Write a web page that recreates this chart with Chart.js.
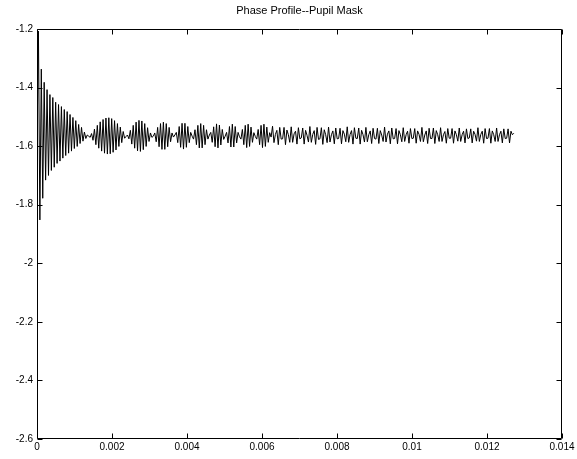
<!DOCTYPE html>
<html>
<head>
<meta charset="utf-8">
<title>Phase Profile--Pupil Mask</title>
<script src="https://cdn.jsdelivr.net/npm/chart.js@4/dist/chart.umd.min.js"></script>
<style>
    html, body { margin: 0; padding: 0; background: #fff; }
    #wrap { width: 577px; height: 459px; }
</style>
</head>
<body>
<div id="wrap"><canvas id="phaseChart" width="577" height="459"></canvas></div>
<script>
// samples are evenly spaced along x
const sampleStep = 3.83e-5;

// first decaying burst
const phaseDecay = [
    -1.600, -1.207, -1.852, -1.337, -1.778, -1.382, -1.716, -1.407, -1.700, -1.424,
    -1.683, -1.434, -1.672, -1.450, -1.659, -1.458, -1.651, -1.465, -1.641, -1.475,
    -1.632, -1.482, -1.624, -1.492, -1.617, -1.502, -1.608, -1.513, -1.601, -1.526,
    -1.591, -1.536, -1.583, -1.552, -1.574
];

// beat groups after the first burst
const phaseBeats = [
    -1.562, -1.566, -1.570,
    -1.557, -1.580, -1.542, -1.595, -1.529, -1.607, -1.517, -1.617, -1.509, -1.624, -1.504, -1.627,
    -1.503, -1.626, -1.506, -1.621, -1.513, -1.613, -1.523, -1.601, -1.535, -1.588, -1.550, -1.573,
    -1.567, -1.562,
    -1.575, -1.546, -1.593, -1.529, -1.607, -1.518, -1.616, -1.512, -1.618, -1.514, -1.612, -1.523,
    -1.601, -1.537, -1.584, -1.555,
    -1.570, -1.566,
    -1.555, -1.585, -1.536, -1.602, -1.523, -1.611, -1.518, -1.611, -1.523, -1.602, -1.536, -1.585, -1.555,
    -1.569, -1.562,
    -1.553, -1.588, -1.533, -1.604, -1.522, -1.610, -1.522, -1.604, -1.533, -1.588, -1.553,
    -1.566,
    -1.576, -1.544, -1.595, -1.529, -1.606, -1.523, -1.606, -1.529, -1.595, -1.544, -1.576,
    -1.562,
    -1.553, -1.587, -1.534, -1.602, -1.524, -1.606, -1.528, -1.596, -1.543, -1.577,
    -1.566,
    -1.553, -1.589, -1.533, -1.603, -1.525, -1.603, -1.533, -1.589, -1.553,
    -1.568,
    -1.576, -1.543, -1.595, -1.529, -1.605, -1.525, -1.601, -1.535, -1.587, -1.554,
    -1.567,
    -1.576, -1.543, -1.595, -1.529, -1.605, -1.525, -1.601, -1.535, -1.587, -1.554,
    -1.569
];

// long ripple tail
const phaseTail = [
    -1.532, -1.588, -1.560, -1.546, -1.595, -1.536, -1.576, -1.575, -1.536, -1.595, -1.545, -1.561, -1.587,
    -1.534, -1.587, -1.558, -1.549, -1.593, -1.537, -1.575, -1.572, -1.538, -1.593, -1.546, -1.563, -1.586,
    -1.533, -1.587, -1.560, -1.547, -1.594, -1.536, -1.577, -1.575, -1.537, -1.594, -1.544, -1.561, -1.588,
    -1.535, -1.586, -1.561, -1.548, -1.592, -1.538, -1.575, -1.574, -1.539, -1.592, -1.547, -1.559, -1.585,
    -1.534, -1.587, -1.560, -1.547, -1.593, -1.537, -1.573, -1.574, -1.538, -1.593, -1.546, -1.561, -1.586,
    -1.536, -1.585, -1.561, -1.548, -1.591, -1.539, -1.574, -1.576, -1.539, -1.591, -1.547, -1.562, -1.584,
    -1.535, -1.586, -1.559, -1.548, -1.592, -1.538, -1.575, -1.574, -1.540, -1.592, -1.547, -1.561, -1.585,
    -1.537, -1.584, -1.561, -1.549, -1.590, -1.540, -1.574, -1.573, -1.540, -1.590, -1.548, -1.560, -1.584,
    -1.536, -1.585, -1.562, -1.548, -1.591, -1.539, -1.574, -1.574, -1.538, -1.591, -1.547, -1.561, -1.584,
    -1.537, -1.584, -1.561, -1.550, -1.590, -1.540, -1.573, -1.573, -1.540, -1.590, -1.548, -1.561, -1.583,
    -1.538, -1.584, -1.561, -1.549, -1.589, -1.541, -1.574, -1.572, -1.541, -1.589, -1.549, -1.560, -1.583,
    -1.537, -1.584, -1.560, -1.549, -1.590, -1.540, -1.574, -1.573, -1.540, -1.590, -1.548, -1.561, -1.584,
    -1.538, -1.584, -1.561, -1.549, -1.589, -1.541, -1.574, -1.573, -1.541, -1.589, -1.549, -1.561, -1.556
];

const xTicks = [0, 0.002, 0.004, 0.006, 0.008, 0.01, 0.012, 0.014];
const yTicks = [-2.6, -2.4, -2.2, -2, -1.8, -1.6, -1.4, -1.2];
const chartTitle = 'Phase Profile--Pupil Mask';

const phase = phaseDecay.concat(phaseBeats, phaseTail);
const points = phase.map((v, i) => ({ x: i * sampleStep, y: v }));

const fontFamily = '"Liberation Sans", Arial, Helvetica, sans-serif';
const fmt = v => String(+v.toFixed(4));

// matlab style box, inward ticks and title
const boxPlugin = {
    id: 'boxPlugin',
    afterDraw(chart) {
        const { ctx, chartArea: a, scales } = chart;
        const L = Math.round(a.left) + 0.5, R = Math.round(a.right) - 0.5;
        const T = Math.round(a.top) + 0.5, B = Math.round(a.bottom) - 0.5;
        const tl = 5;
        ctx.save();
        ctx.strokeStyle = '#000';
        ctx.lineWidth = 1;
        ctx.beginPath();
        ctx.rect(L, T, R - L, B - T);
        xTicks.forEach(v => {
            const px = Math.round(scales.x.getPixelForValue(v)) + 0.5;
            ctx.moveTo(px, B); ctx.lineTo(px, B - tl);
            ctx.moveTo(px, T); ctx.lineTo(px, T + tl);
        });
        yTicks.forEach(v => {
            const py = Math.round(scales.y.getPixelForValue(v)) + 0.5;
            ctx.moveTo(L, py); ctx.lineTo(L + tl, py);
            ctx.moveTo(R, py); ctx.lineTo(R - tl, py);
        });
        ctx.stroke();

        ctx.fillStyle = '#000';
        ctx.font = '11px ' + fontFamily;
        ctx.textAlign = 'center';
        ctx.textBaseline = 'middle';
        ctx.fillText(chartTitle, (a.left + a.right) / 2, 11);
        ctx.restore();
    }
};

new Chart(document.getElementById('phaseChart'), {
    type: 'line',
    data: {
        datasets: [{
            data: points,
            borderColor: '#000',
            borderWidth: 1,
            pointRadius: 0,
            tension: 0,
            fill: false
        }]
    },
    options: {
        responsive: false,
        animation: false,
        layout: { padding: { top: 29, right: 15, left: 1, bottom: 0 } },
        plugins: {
            legend: { display: false },
            title: { display: false },
            tooltip: { enabled: false }
        },
        scales: {
            x: {
                type: 'linear',
                min: 0,
                max: 0.014,
                afterBuildTicks: s => { s.ticks = xTicks.map(v => ({ value: v })); },
                afterFit: s => { s.height = 20; },
                grid: { display: false, drawTicks: false },
                border: { display: false },
                ticks: {
                    color: '#000',
                    padding: 2,
                    maxRotation: 0,
                    autoSkip: false,
                    font: { family: fontFamily, size: 10 },
                    callback: v => fmt(v)
                }
            },
            y: {
                type: 'linear',
                min: -2.6,
                max: -1.2,
                afterBuildTicks: s => { s.ticks = yTicks.map(v => ({ value: v })); },
                afterFit: s => { s.width = 36; },
                grid: { display: false, drawTicks: false },
                border: { display: false },
                ticks: {
                    color: '#000',
                    padding: 4,
                    autoSkip: false,
                    font: { family: fontFamily, size: 10 },
                    callback: v => fmt(v)
                }
            }
        }
    },
    plugins: [boxPlugin]
});
</script>
</body>
</html>
